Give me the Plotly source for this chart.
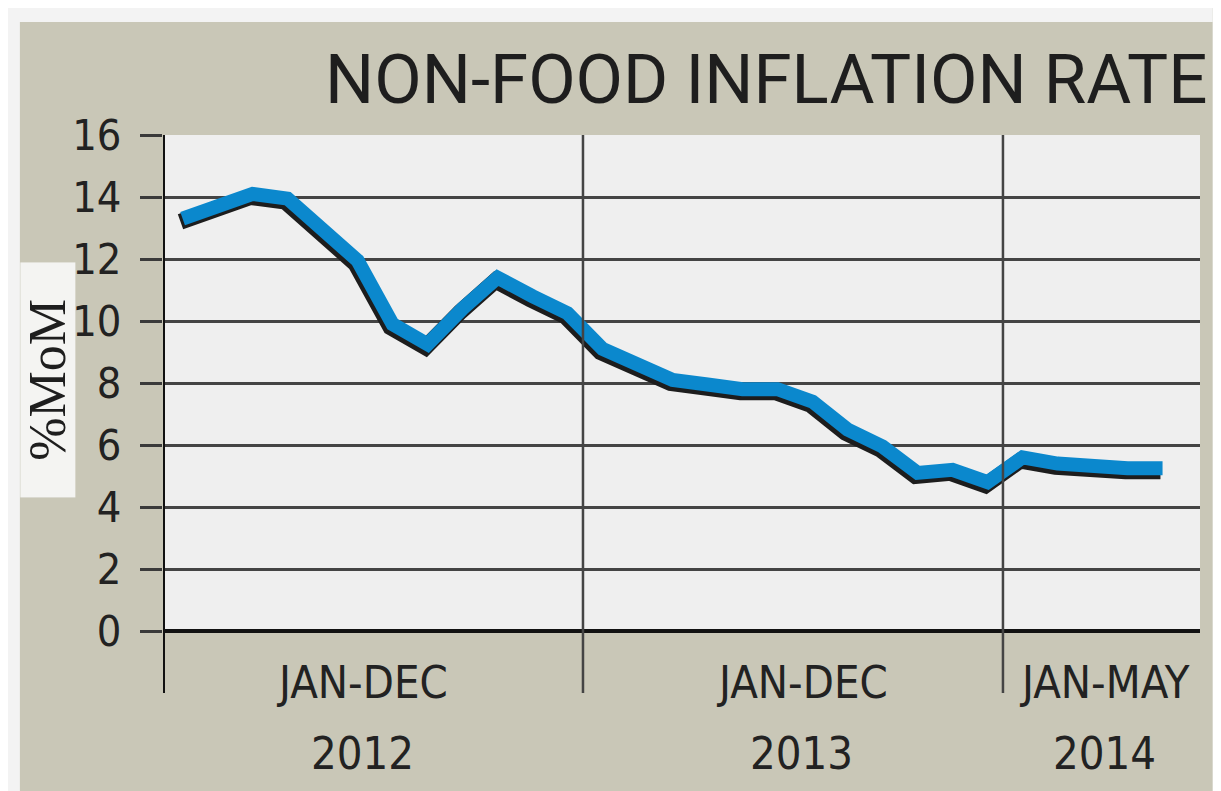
import plotly.graph_objects as go

# ---- data ----
months = [f"{m} {y}" for y, ms in [(2012, 12), (2013, 12), (2014, 5)]
          for m in ["Jan", "Feb", "Mar", "Apr", "May", "Jun", "Jul", "Aug", "Sep", "Oct", "Nov", "Dec"][:ms]]
non_food_inflation = [13.2, 13.6, 14.0, 13.85, 12.9, 11.85, 9.8, 9.15, 10.3, 11.3, 10.7, 10.15,
                      9.0, 8.5, 8.0, 7.85, 7.7, 7.7, 7.3, 6.4, 5.85, 5.0, 5.1, 4.7,
                      5.5, 5.3, 5.2, 5.15, 5.15]
y_ticks = [0, 2, 4, 6, 8, 10, 12, 14, 16]
period_top = ["JAN-DEC", "JAN-DEC", "JAN-MAY"]
period_bottom = ["2012", "2013", "2014"]
period_centers = [5.2, 17.75, 26.4]
year_breaks = [-0.5, 11.5, 23.5]

title_text = "NON-FOOD INFLATION RATE"
y_title = "%MoM"

TAN = "#c9c7b7"
PLOT_BG = "#efefef"
NARROW = "Liberation Sans Narrow, DejaVu Sans Condensed, Roboto, sans-serif"

X_RANGE = [-0.5, 29.13]
Y_RANGE = [0, 16]

fig = go.Figure()

# dark shadow under the line (true position)
fig.add_trace(go.Scatter(x=months, y=non_food_inflation, mode="lines",
                         line=dict(color="#1d1d1d", width=16),
                         xaxis="x", yaxis="y", hoverinfo="skip", showlegend=False))
# blue line, drawn on a slightly shifted overlay axis pair
fig.add_trace(go.Scatter(x=months, y=non_food_inflation, mode="lines",
                         line=dict(color="#0b88cd", width=14),
                         xaxis="x2", yaxis="y2", showlegend=False))

shapes = []
# light strips around the tan panel
shapes.append(dict(type="rect", xref="paper", yref="paper", x0=-0.2, x1=1.1, y0=1.228, y1=1.4,
                   fillcolor="#f3f3f3", line_width=0, layer="below"))
shapes.append(dict(type="rect", xref="paper", yref="paper", x0=-0.2, x1=-0.138, y0=-0.5, y1=1.4,
                   fillcolor="#f3f3f3", line_width=0, layer="below"))
shapes.append(dict(type="rect", xref="paper", yref="paper", x0=1.012, x1=1.1, y0=-0.5, y1=1.4,
                   fillcolor="#e6e6e0", line_width=0, layer="below"))
# year separators (extend below axis)
for i, xb in enumerate(year_breaks):
    shapes.append(dict(type="line", xref="x", yref="paper", x0=xb, x1=xb, y0=-0.125, y1=1.0,
                       line=dict(color="#111111" if i == 0 else "#444444", width=4 if i == 0 else 2.5),
                       layer="above"))

annotations = []
annotations.append(dict(text=title_text, xref="paper", yref="paper", x=1.009, y=1.111,
                        xanchor="right", yanchor="middle", showarrow=False,
                        font=dict(family="Roboto, Open Sans, sans-serif", size=69, color="#1e1e1e")))
annotations.append(dict(text=y_title, xref="paper", yref="paper", x=-0.111, y=0.506,
                        xanchor="center", yanchor="middle", showarrow=False, textangle=-90,
                        width=232, height=52, bgcolor="#f4f4f2",
                        font=dict(family="Liberation Serif, DejaVu Serif, serif", size=52, color="#1e1e1e")))
for c, t, b in zip(period_centers, period_top, period_bottom):
    annotations.append(dict(text=t, xref="x", yref="paper", x=c, y=-0.103, xanchor="center",
                            yanchor="middle", showarrow=False,
                            font=dict(family=NARROW, size=45, color="#222222")))
    annotations.append(dict(text=b, xref="x", yref="paper", x=c, y=-0.246, xanchor="center",
                            yanchor="middle", showarrow=False,
                            font=dict(family=NARROW, size=45, color="#222222")))

# page body has an 8px margin: figure is 8px smaller and margins shifted by -8
fig.update_layout(
    width=1213, height=783,
    margin=dict(l=155, r=21, t=127, b=160),
    paper_bgcolor=TAN, plot_bgcolor=PLOT_BG,
    shapes=shapes, annotations=annotations,
    xaxis=dict(type="category", range=X_RANGE, showgrid=False, showticklabels=False,
               ticks="", zeroline=False, showline=False, fixedrange=True),
    yaxis=dict(range=Y_RANGE, tickvals=y_ticks, showgrid=True, gridcolor="#444444", gridwidth=2.5,
               zeroline=True, zerolinecolor="#111111", zerolinewidth=4,
               ticks="outside", ticklen=22, tickwidth=2.5, tickcolor="#3a3a3a",
               ticklabelstandoff=10,
               tickfont=dict(family=NARROW, size=43, color="#222222"),
               showline=False, fixedrange=True),
    xaxis2=dict(type="category", overlaying="x", range=[X_RANGE[0] - 0.06, X_RANGE[1] - 0.06],
                visible=False, fixedrange=True),
    yaxis2=dict(overlaying="y", range=[Y_RANGE[0] - 0.1, Y_RANGE[1] - 0.1],
                visible=False, fixedrange=True),
)

fig.write_html("out.html")
